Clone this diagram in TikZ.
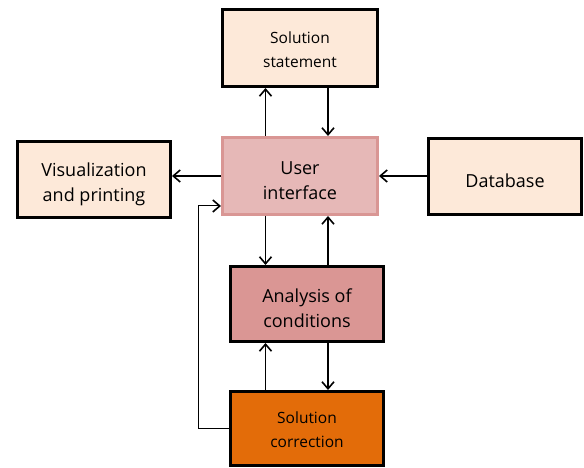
\documentclass[tikz,border=0pt]{standalone}
\usepackage{fontspec}
\setmainfont{Open Sans}
\usetikzlibrary{arrows.meta}
\definecolor{peach}{HTML}{FDE9D9}
\definecolor{uifill}{HTML}{E6B8B7}
\definecolor{uiborder}{HTML}{D99694}
\definecolor{anfill}{HTML}{DA9694}
\definecolor{orng}{HTML}{E36C09}
\tikzset{
  box/.style={draw=black, line width=3pt, rectangle, inner sep=0pt},
  bigtext/.style={label={[yshift=-4.5pt, align=center, text=black, font=\fontsize{18}{25}\selectfont]center:#1}},
  smalltext/.style={label={[yshift=-1.5pt, align=center, text=black, font=\fontsize{15.5}{24}\selectfont]center:#1}},
  arr/.style={line width=1.6pt, -{Straight Barb[length=7pt,width=12pt,line width=1.6pt]}},
  fb/.style={line width=1pt, -{Straight Barb[length=7pt,width=12pt,line width=1.6pt]}}
}
\begin{document}
\begin{tikzpicture}[x=1pt,y=1pt]
\useasboundingbox (0,0) rectangle (584,468);
\node[box, smalltext={Solution\\statement}, fill=peach, minimum width=155pt, minimum height=77pt] (sol) at (300,420) {};
\node[box, bigtext={Visualization\\and printing}, fill=peach, minimum width=153pt, minimum height=76pt] (vis) at (94,288.5) {};
\node[box, bigtext={User\\interface}, fill=uifill, draw=uiborder, minimum width=155pt, minimum height=77pt] (ui) at (300,292) {};
\node[box, bigtext={Database}, fill=peach, minimum width=153pt, minimum height=76pt] (db) at (505,291.5) {};
\node[box, bigtext={Analysis of\\conditions}, fill=anfill, minimum width=153pt, minimum height=75pt] (an) at (307,164) {};
\node[box, smalltext={Solution\\correction}, fill=orng, minimum width=153pt, minimum height=74pt] (cor) at (307,39.5) {};
\coordinate (xa) at (265.5,0);
\coordinate (xb) at (328,0);
\coordinate (fx) at (198.5,0);
\draw[arr] (xa |- ui.north) -- (xa |- sol.south);
\draw[arr] (xb |- sol.south) -- (xb |- ui.north);
\draw[arr] (ui.west) -- (vis.east |- ui.west);
\draw[arr] (db.west |- ui.east) -- (ui.east);
\draw[arr] (xa |- ui.south) -- (xa |- an.north);
\draw[arr] (xb |- an.north) -- (xb |- ui.south);
\draw[arr] (xa |- cor.north) -- (xa |- an.south);
\draw[arr] (xb |- an.south) -- (xb |- cor.north);
\coordinate (fy) at (0,262);
\draw[fb] (cor.west) -- (fx |- cor.west) -- (fx |- fy) -- (ui.west |- fy);
\end{tikzpicture}
\end{document}
